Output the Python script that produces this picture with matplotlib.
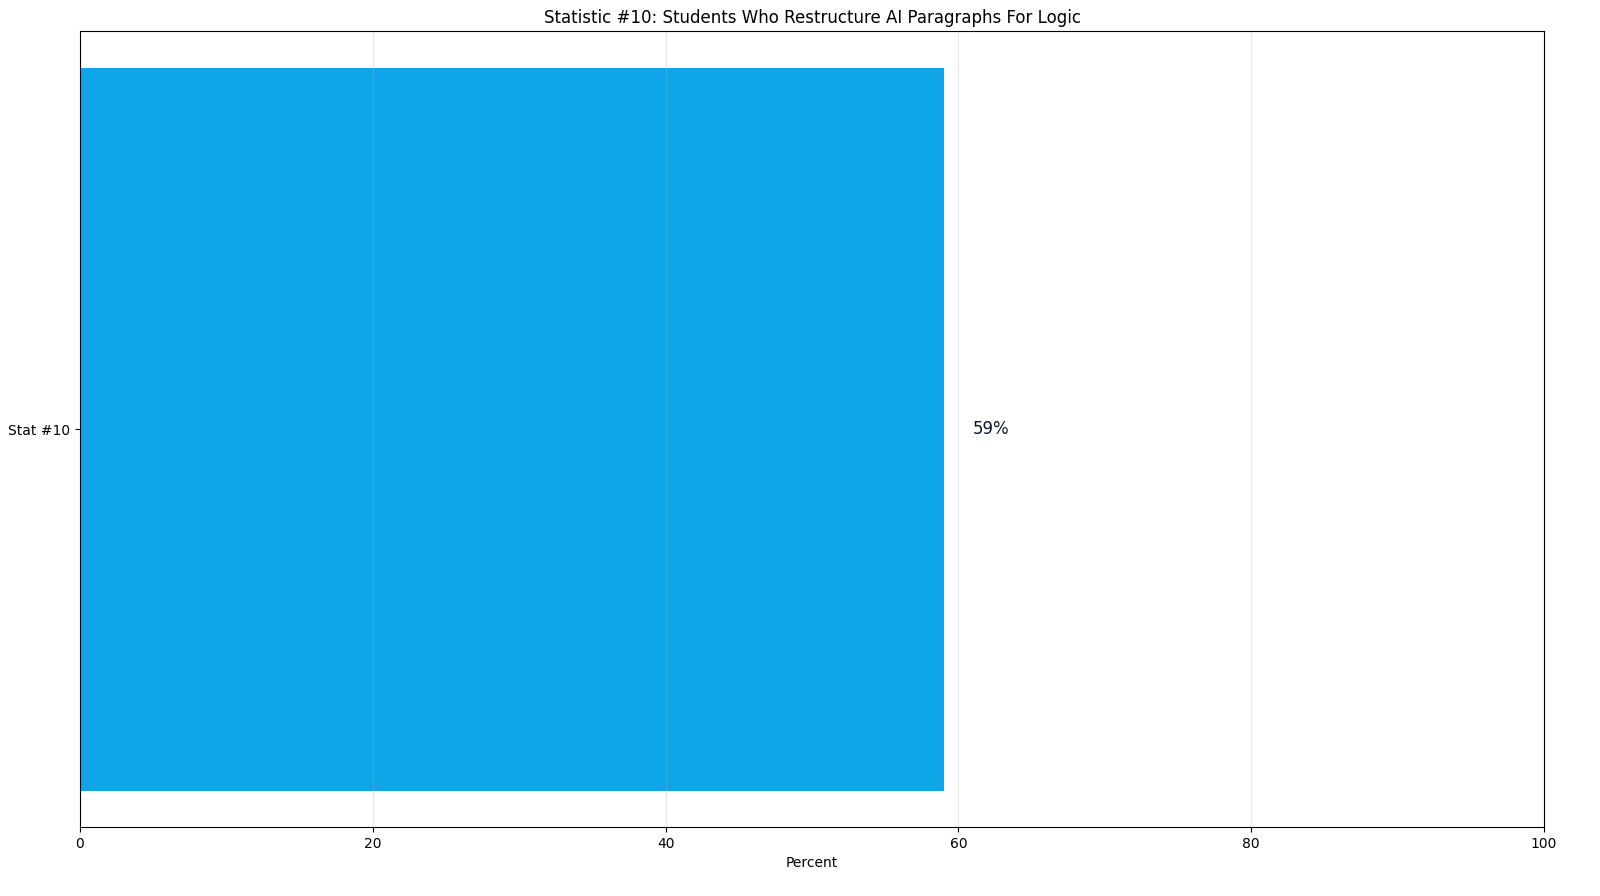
import matplotlib
matplotlib.use("Agg")
import matplotlib.pyplot as plt

# data
labels = ["Stat #10"]
values = [59]

fig, ax = plt.subplots(figsize=(16, 8.96), dpi=100)
bars = ax.barh(labels, values, color="#0EA5E9")

# value labels just past the bar end
for b, v in zip(bars, values):
    ax.text(v + 2, b.get_y() + b.get_height() / 2, f"{v}%",
            va="center", ha="left", fontsize=12, color="#0F172A")

ax.set_xlim(0, 100)
ax.set_xlabel("Percent")
ax.set_title("Statistic #10: Students Who Restructure AI Paragraphs For Logic", fontsize=12)
ax.grid(axis="x", alpha=0.3)

fig.subplots_adjust(left=0.05, right=0.965, top=0.965, bottom=0.077)
fig.savefig("out.png", dpi=100)
